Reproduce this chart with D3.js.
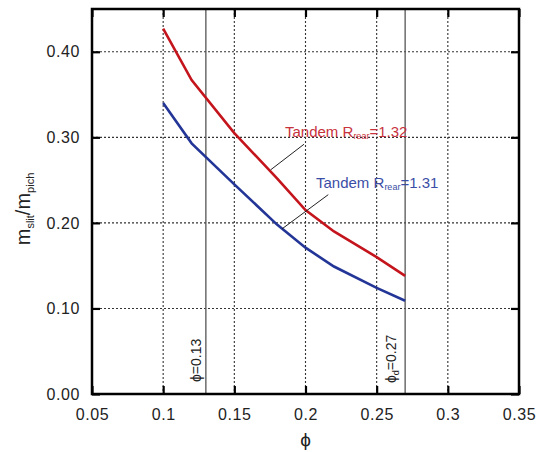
<!DOCTYPE html>
<html><head><meta charset="utf-8">
<script src="https://cdn.jsdelivr.net/npm/d3@7"></script>
<style>body{margin:0;background:#fff}svg{display:block;font-family:"Liberation Sans",Arial,sans-serif}</style>
</head><body><svg id="c" width="548" height="452"></svg>
<script>
const phi = [0.10, 0.12, 0.15, 0.18, 0.20, 0.22, 0.25, 0.27];
const red132 = [0.427, 0.367, 0.305, 0.252, 0.215, 0.190, 0.160, 0.138];
const blue131 = [0.340, 0.293, 0.245, 0.198, 0.171, 0.149, 0.124, 0.109];
const xTicks = [0.05, 0.1, 0.15, 0.2, 0.25, 0.3, 0.35];
const xTickLabels = ["0.05", "0.1", "0.15", "0.2", "0.25", "0.3", "0.35"];
const yTicks = [0, 0.1, 0.2, 0.3, 0.4];
const yTickLabels = ["0.00", "0.10", "0.20", "0.30", "0.40"];
const refLines = [0.13, 0.27];

const svg = d3.select("#c");
const L = 92, R = 519, T = 9, B = 394;
const x = d3.scaleLinear().domain([0.05, 0.35]).range([L, R]);
const y = d3.scaleLinear().domain([0, 0.45]).range([B, T]);
const FF = "Liberation Sans, Arial, sans-serif";

// grid
const g = svg.append("g");
g.selectAll(".gx").data(xTicks.slice(1, -1)).join("line")
  .attr("x1", d => x(d)).attr("x2", d => x(d)).attr("y1", T).attr("y2", B)
  .attr("stroke", "#333").attr("stroke-width", 1.1).attr("stroke-dasharray", "2,2");
g.selectAll(".gy").data(yTicks.slice(1)).join("line")
  .attr("x1", L).attr("x2", R).attr("y1", d => y(d)).attr("y2", d => y(d))
  .attr("stroke", "#333").attr("stroke-width", 1.1).attr("stroke-dasharray", "2,2");

// reference lines
g.selectAll(".ref").data(refLines).join("line")
  .attr("x1", d => x(d)).attr("x2", d => x(d)).attr("y1", T).attr("y2", B)
  .attr("stroke", "#555").attr("stroke-width", 1.3);

// axes
const tickLen = 8;
function styleTicks(a, withText) {
  a.select(".domain").remove();
  a.selectAll("line").attr("stroke", "#000").attr("stroke-width", 2.2);
  if (withText) a.selectAll("text").style("font-size", "16px").style("font-family", FF)
    .attr("fill", "#222").attr("letter-spacing", 0.6);
}
svg.append("g").attr("transform", `translate(0,${B})`)
  .call(d3.axisBottom(x).tickValues(xTicks).tickFormat((d, i) => xTickLabels[i]).tickSizeInner(-tickLen).tickSizeOuter(0).tickPadding(15))
  .call(a => styleTicks(a, true));
svg.append("g").attr("transform", `translate(0,${T})`)
  .call(d3.axisTop(x).tickValues(xTicks).tickFormat("").tickSizeInner(-tickLen).tickSizeOuter(0))
  .call(a => styleTicks(a, false));
svg.append("g").attr("transform", `translate(${L},0)`)
  .call(d3.axisLeft(y).tickValues(yTicks).tickFormat((d, i) => yTickLabels[i]).tickSizeInner(-tickLen).tickSizeOuter(0).tickPadding(12))
  .call(a => styleTicks(a, true));
svg.append("g").attr("transform", `translate(${R},0)`)
  .call(d3.axisRight(y).tickValues(yTicks).tickFormat("").tickSizeInner(-tickLen).tickSizeOuter(0))
  .call(a => styleTicks(a, false));

svg.append("rect").attr("x", L).attr("y", T).attr("width", R - L).attr("height", B - T)
  .attr("fill", "none").attr("stroke", "#000").attr("stroke-width", 2.5);

// curves
const line = d3.line().x((d, i) => x(phi[i])).y(d => y(d));
svg.append("path").attr("d", line(red132)).attr("fill", "none").attr("stroke", "#c4141c").attr("stroke-width", 2.6);
svg.append("path").attr("d", line(blue131)).attr("fill", "none").attr("stroke", "#233596").attr("stroke-width", 2.6);

// leaders
svg.append("line").attr("x1", x(0.1755)).attr("y1", y(0.262)).attr("x2", x(0.199)).attr("y2", y(0.292))
  .attr("stroke", "#222").attr("stroke-width", 1);
svg.append("line").attr("x1", x(0.1835)).attr("y1", y(0.193)).attr("x2", x(0.216)).attr("y2", y(0.233))
  .attr("stroke", "#222").attr("stroke-width", 1);

// labels
function label(tx, ty, val, col) {
  const t = svg.append("text").attr("x", tx).attr("y", ty).style("font-size", "15px").attr("fill", col);
  t.append("tspan").text("Tandem R");
  t.append("tspan").style("font-size", "9px").attr("dy", 2).text("rear");
  t.append("tspan").attr("dy", -2).text("=" + val);
}
label(285, 137, "1.32", "#c8323c");
label(316, 188, "1.31", "#3b4ea6");

// vertical ref labels
const v1 = svg.append("text").attr("transform", `translate(${x(0.13) - 5},382) rotate(-90)`).style("font-size", "14px").attr("fill", "#222");
v1.append("tspan").text("ϕ=0.13");
const v2 = svg.append("text").attr("transform", `translate(${x(0.27) - 9},383) rotate(-90)`).style("font-size", "14px").attr("fill", "#222");
v2.append("tspan").text("ϕ");
v2.append("tspan").style("font-size", "9px").attr("dy", 3).text("d");
v2.append("tspan").attr("dy", -3).text("=0.27");

// axis titles
svg.append("text").attr("x", x(0.2)).attr("y", 446).attr("text-anchor", "middle").style("font-size", "19px").attr("fill", "#222").text("ϕ");
const yl = svg.append("text").attr("transform", "translate(30,209) rotate(-90)").attr("text-anchor", "middle").style("font-size", "20px").attr("fill", "#222");
yl.append("tspan").text("m");
yl.append("tspan").style("font-size", "11px").attr("dy", 4).text("slit");
yl.append("tspan").attr("dy", -4).text("/m");
yl.append("tspan").style("font-size", "11px").attr("dy", 4).text("pich");
</script></body></html>
